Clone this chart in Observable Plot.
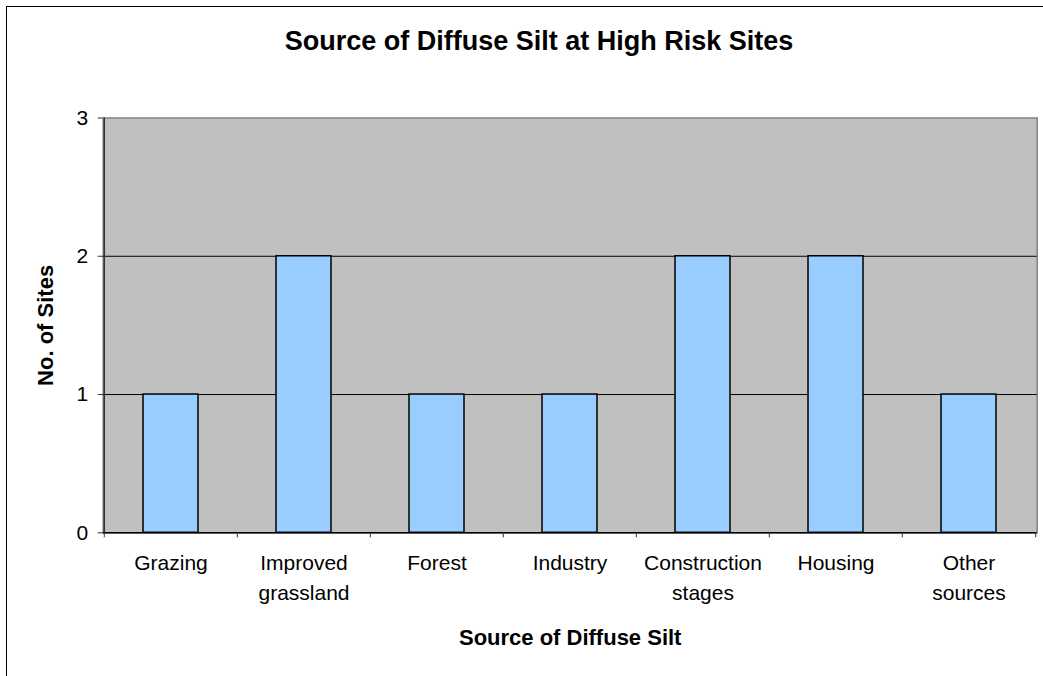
<!DOCTYPE html>
<html>
<head>
<meta charset="utf-8">
<script src="https://cdn.jsdelivr.net/npm/d3@7"></script>
<script src="https://cdn.jsdelivr.net/npm/@observablehq/plot@0.6"></script>
<style>
  html, body { margin: 0; padding: 0; background: #fff; overflow: hidden; width: 1043px; height: 676px; }
  #wrap { position: relative; width: 1043px; height: 676px; font-family: "Liberation Sans", Arial, sans-serif; }
  #border { position: absolute; left: 6px; top: 6px; width: 1100px; height: 800px; border-left: 1.5px solid #000; border-top: 1.5px solid #000; pointer-events: none; }
  #title { width: 1078px; height: 52px; padding-top: 28px; line-height: 27px; font-size: 27px; font-weight: bold; text-align: center; color: #000; }
  #chart svg { display: block; }
</style>
</head>
<body>
<div id="wrap">
  <div id="title">Source of Diffuse Silt at High Risk Sites</div>
  <div id="chart"></div>
  <div id="border"></div>
</div>
<script>
const categories = ["Grazing", "Improved grassland", "Forest", "Industry", "Construction stages", "Housing", "Other sources"];
const sites = [1, 2, 1, 1, 2, 2, 1];
const tickLabels = ["Grazing", "Improved\ngrassland", "Forest", "Industry", "Construction\nstages", "Housing", "Other\nsources"];
const yTicks = [0, 1, 2, 3];
const gridValues = [1, 2];
const xLabel = "Source of Diffuse Silt";
const yLabel = "No. of Sites";

const data = categories.map((c, i) => ({source: c, sites: sites[i], label: tickLabels[i]}));

const W = 1043, H = 596;
const mL = 102.7, mR = 6.3, mT = 37.5, mB = 143.7;
const step = (W - mL - mR) / categories.length;

const chart = Plot.plot({
  width: W,
  height: H,
  marginLeft: mL,
  marginRight: mR,
  marginTop: mT,
  marginBottom: mB,
  style: {fontFamily: "'Liberation Sans', Arial, sans-serif", fontSize: "21px", color: "#000", background: "transparent"},
  x: {domain: categories, paddingInner: 0.59, paddingOuter: 0.295, axis: null},
  y: {domain: [0, 3], axis: null},
  marks: [
    Plot.frame({fill: "#c0c0c0", stroke: "#808080", strokeWidth: 1.5}),
    Plot.ruleY(gridValues, {stroke: "#000", strokeWidth: 1}),
    Plot.barY(data, {x: "source", y: "sites", fill: "#99ccff", stroke: "#000", strokeWidth: 1.5}),
    Plot.ruleY([0], {stroke: "#000", strokeWidth: 1.5}),
    Plot.ruleX(categories.slice(0, 1), {x: d => d, dx: -step / 2, stroke: "#333", strokeWidth: 1.5}),
    Plot.ruleX(categories, {x: d => d, y1: 0, y2: 0, insetBottom: -5, dx: -step / 2, stroke: "#333", strokeWidth: 1}),
    Plot.ruleX(categories.slice(-1), {x: d => d, y1: 0, y2: 0, insetBottom: -5, dx: step / 2, stroke: "#333", strokeWidth: 1}),
    Plot.axisY({ticks: yTicks, label: null, tickSize: 5, tickPadding: 10, fontSize: 21, stroke: "#333", tickFormat: d3.format("d")}),
    Plot.text(data, {x: "source", text: "label", frameAnchor: "bottom", lineAnchor: "top", dy: 16.5, lineHeight: 1.4, fontSize: 21, fill: "#000"}),
    Plot.text([xLabel], {text: d => d, frameAnchor: "bottom", textAnchor: "middle", lineAnchor: "middle", dy: 105, fontSize: 22, fontWeight: "bold", fill: "#000"}),
    Plot.text([yLabel], {text: d => d, frameAnchor: "left", textAnchor: "middle", lineAnchor: "middle", dx: -57, rotate: -90, fontSize: 22, fontWeight: "bold", fill: "#000"})
  ]
});
document.getElementById("chart").appendChild(chart);
</script>
</body>
</html>
